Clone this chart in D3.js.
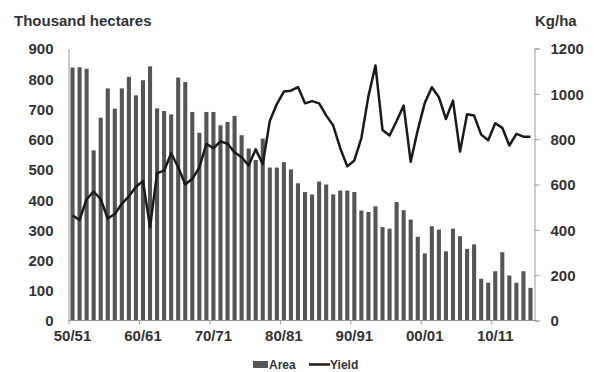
<!DOCTYPE html>
<html>
<head>
<meta charset="utf-8">
<script src="https://cdn.jsdelivr.net/npm/d3@7"></script>
<style>
  body { margin: 0; background: #fff; }
  svg text { font-family: "Liberation Sans", Arial, sans-serif; font-weight: bold; fill: #333; }
</style>
</head>
<body>
<svg id="chart"></svg>
<script>
// Seasons 1950/51 .. 2015/16
const firstSeason = 1950;
const seasonCount = 66;
const tickLabels = ["50/51", "60/61", "70/71", "80/81", "90/91", "00/01", "10/11"];

// Area, thousand hectares (bars, left axis)
const area = [
  837, 838, 833, 563, 671, 768, 701, 768, 806, 745,
  795, 841, 702, 693, 682, 804, 789, 690, 621, 690,
  690, 646, 657, 677, 613, 569, 531, 602, 506, 506,
  524, 500, 454, 425, 417, 460, 450, 417, 430, 430,
  425, 364, 359, 378, 309, 304, 392, 365, 334, 277,
  222, 312, 301, 229, 304, 279, 237, 252, 138, 125,
  163, 226, 149, 125, 163, 108
];

// Yield, kg/ha (line, right axis)
const yieldKgHa = [
  463, 444, 535, 569, 535, 450, 470, 515, 548, 590,
  615, 411, 650, 661, 738, 676, 600, 625, 675, 779,
  760, 790, 780, 742, 720, 684, 755, 690, 880, 955,
  1010, 1014, 1030, 958, 968, 958, 905, 860, 760, 680,
  706, 805, 990, 1125, 840, 816, 880, 948, 700, 840,
  960, 1029, 985, 889, 970, 745, 910, 904, 820, 795,
  870, 850, 772, 823, 811, 811
];

const leftTicks = [0, 100, 200, 300, 400, 500, 600, 700, 800, 900];
const rightTicks = [0, 200, 400, 600, 800, 1000, 1200];

class DualAxisChart {

  constructor(_config) {
    this.config = {
      parentElement: _config.parentElement,
      containerWidth: _config.containerWidth || 594,
      containerHeight: _config.containerHeight || 372,
      plot: { left: 69, right: 534, top: 48.5, bottom: 320.5 }
    };
    this.initVis();
  }

  initVis() {
    let vis = this;
    const p = vis.config.plot;

    vis.seasons = d3.range(seasonCount).map(i => {
      const y = firstSeason + i;
      return String(y % 100).padStart(2, '0') + '/' + String((y + 1) % 100).padStart(2, '0');
    });

    vis.svg = d3.select(vis.config.parentElement)
      .attr('width', vis.config.containerWidth)
      .attr('height', vis.config.containerHeight);

    vis.xScale = d3.scaleBand()
      .domain(vis.seasons)
      .range([p.left, p.right])
      .paddingInner(0.42)
      .paddingOuter(0.21);

    vis.yLeft = d3.scaleLinear().domain([0, 900]).range([p.bottom, p.top]);
    vis.yRight = d3.scaleLinear().domain([0, 1200]).range([p.bottom, p.top]);

    vis.renderVis();
  }

  renderVis() {
    let vis = this;
    const p = vis.config.plot;
    const data = vis.seasons.map((s, i) => ({ season: s, area: area[i], yld: yieldKgHa[i] }));

    // bars
    vis.svg.append('g')
      .selectAll('rect')
      .data(data)
      .join('rect')
        .attr('x', d => vis.xScale(d.season))
        .attr('y', d => vis.yLeft(d.area))
        .attr('width', vis.xScale.bandwidth())
        .attr('height', d => vis.yLeft(0) - vis.yLeft(d.area))
        .attr('fill', '#555');

    // x axis: ticks on category boundaries every 10 seasons, labels centred on category
    const xAxisG = vis.svg.append('g');
    xAxisG.append('line')
      .attr('x1', p.left).attr('x2', p.right + 2)
      .attr('y1', p.bottom).attr('y2', p.bottom)
      .attr('stroke', '#999').attr('stroke-width', 1);
    const step = vis.xScale.step();
    tickLabels.forEach((lab, k) => {
      const s = vis.seasons[k * 10];
      const x0 = vis.xScale(s) - vis.xScale.paddingInner() * step / 2;
      xAxisG.append('line')
        .attr('x1', x0).attr('x2', x0)
        .attr('y1', p.bottom).attr('y2', p.bottom + 4)
        .attr('stroke', '#999');
      xAxisG.append('text')
        .attr('x', vis.xScale(s) + vis.xScale.bandwidth() / 2)
        .attr('y', 341)
        .attr('text-anchor', 'middle')
        .style('font-size', '15px')
        .text(lab);
    });

    // left axis
    const leftAxis = d3.axisLeft(vis.yLeft).tickValues(leftTicks).tickSize(0).tickPadding(15)
      .tickFormat(d3.format('d'));
    const leftG = vis.svg.append('g')
      .attr('transform', `translate(${p.left - 0.5},0)`)
      .call(leftAxis);
    leftG.select('.domain').attr('stroke', '#999');
    leftG.selectAll('text').style('font-size', '15px').attr('dy', '0.36em').attr('fill', '#333');

    // right axis
    const rightAxis = d3.axisRight(vis.yRight).tickValues(rightTicks).tickSize(5).tickSizeOuter(5).tickPadding(11)
      .tickFormat(d3.format('d'));
    const rightG = vis.svg.append('g')
      .attr('transform', `translate(${p.right + 0.5},0)`)
      .call(rightAxis);
    rightG.select('.domain').attr('stroke', '#999');
    rightG.selectAll('.tick line').attr('stroke', '#999');
    rightG.selectAll('text').style('font-size', '15px').attr('dy', '0.36em').attr('fill', '#333');

    // yield line
    const line = d3.line()
      .x(d => vis.xScale(d.season) + vis.xScale.bandwidth() / 2)
      .y(d => vis.yRight(d.yld));
    vis.svg.append('path')
      .datum(data)
      .attr('d', line)
      .attr('fill', 'none')
      .attr('stroke', '#1a1a1a')
      .attr('stroke-width', 2.5)
      .attr('stroke-linejoin', 'round');

    // axis titles
    vis.svg.append('text')
      .attr('x', 14).attr('y', 26)
      .style('font-size', '15px')
      .text('Thousand hectares');
    vis.svg.append('text')
      .attr('x', 535).attr('y', 26)
      .style('font-size', '15px')
      .text('Kg/ha');

    // legend (sits right at the bottom edge, as in the reference)
    const lg = vis.svg.append('g');
    lg.append('rect')
      .attr('x', 253).attr('y', 361).attr('width', 15).attr('height', 7)
      .attr('fill', '#555');
    lg.append('text')
      .attr('x', 269).attr('y', 369)
      .style('font-size', '12px')
      .text('Area');
    lg.append('line')
      .attr('x1', 309).attr('x2', 330)
      .attr('y1', 364.5).attr('y2', 364.5)
      .attr('stroke', '#1a1a1a').attr('stroke-width', 2.5);
    lg.append('text')
      .attr('x', 330).attr('y', 369)
      .style('font-size', '12px')
      .text('Yield');
  }
}

new DualAxisChart({ parentElement: '#chart', containerWidth: 594, containerHeight: 372 });
</script>
</body>
</html>
